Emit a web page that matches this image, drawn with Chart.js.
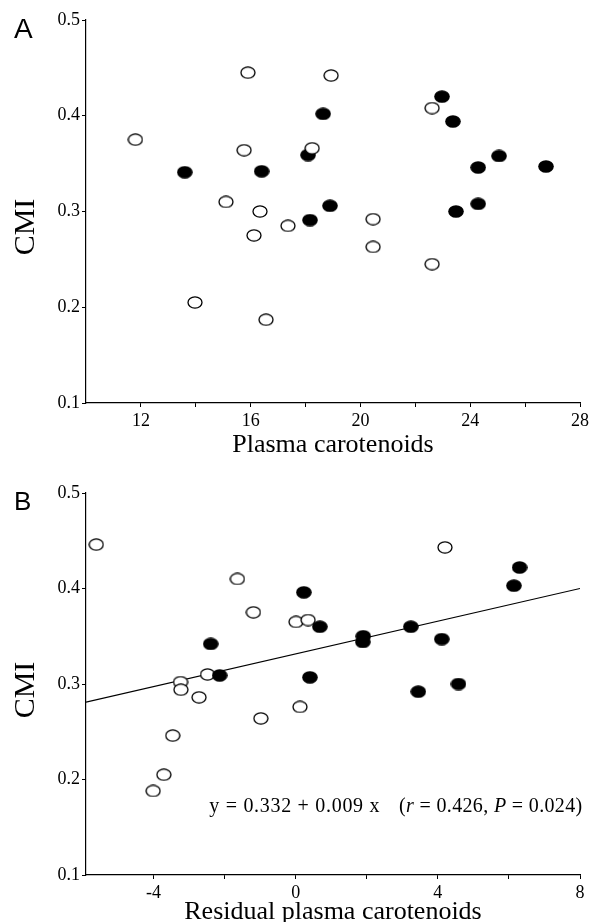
<!DOCTYPE html>
<html>
<head>
<meta charset="utf-8">
<title>CMI and plasma carotenoids</title>
<script src="https://cdn.jsdelivr.net/npm/chart.js@4.4.1/dist/chart.umd.min.js"></script>
<style>
  html, body { margin: 0; padding: 0; background: #fff; }
  #wrap { position: relative; width: 592px; height: 922px; overflow: hidden; }
  canvas { position: absolute; left: 0; }
  #chartA { top: 0; }
  #chartB { top: 461px; }
</style>
</head>
<body>
<div id="wrap">
  <canvas id="chartA" width="592" height="461"></canvas>
  <canvas id="chartB" width="592" height="461"></canvas>
</div>
<script>
// Panel A: CMI against plasma carotenoids
const carotA_filled = [13.6, 16.4, 22.97, 23.37, 18.64, 18.09, 24.29, 25.05, 26.76, 18.89, 18.16, 23.48, 24.29]
const cmiA_filled   = [0.341, 0.342, 0.420, 0.394, 0.402, 0.359, 0.346, 0.358, 0.347, 0.306, 0.291, 0.300, 0.308]
const carotA_open   = [11.8, 15.9, 18.93, 15.76, 18.24, 22.61, 15.1, 16.34, 16.12, 17.36, 20.46, 20.46, 22.61, 13.97, 16.56]
const cmiA_open     = [0.375, 0.445, 0.442, 0.364, 0.366, 0.408, 0.310, 0.300, 0.275, 0.285, 0.292, 0.263, 0.245, 0.205, 0.187]

// Panel B: CMI against residual plasma carotenoids
const residB_filled = [-2.39, -2.14, 0.23, 0.68, 1.90, 1.89, 3.24, 4.11, 6.14, 6.30, 0.40, 3.45, 4.58]
const cmiB_filled   = [0.342, 0.309, 0.396, 0.360, 0.350, 0.344, 0.360, 0.347, 0.403, 0.422, 0.307, 0.292, 0.300]
const residB_open   = [-5.61, -1.64, -1.19, 0.01, 0.35, 4.20, -3.24, -3.23, -2.48, -2.72, -3.46, -3.71, -4.01, -0.98, 0.12]
const cmiB_open     = [0.446, 0.410, 0.375, 0.365, 0.367, 0.443, 0.302, 0.294, 0.310, 0.286, 0.246, 0.205, 0.188, 0.264, 0.276]

// fitted line y = 0.332 + 0.009 x, ends
const fitX = [-5.9, 8]
const fitY = [0.281, 0.400]

// tick labels
const yTicks  = [0.1, 0.2, 0.3, 0.4, 0.5]
const xTicksA = [12, 14, 16, 18, 20, 22, 24, 26, 28]
const xTicksB = [-4, -2, 0, 2, 4, 6, 8]

const SERIF = "'Liberation Serif', 'Times New Roman', serif"
const SANS = "'Liberation Sans', Arial, sans-serif"

Chart.defaults.font.family = SERIF
Chart.defaults.color = "#000"

const zip = (xs, ys) => xs.map((x, i) => ({ x, y: ys[i] }))

// slightly flattened dots, like the printed figure
function makeDot(filled) {
  const c = document.createElement("canvas")
  c.width = 16
  c.height = 13
  const g = c.getContext("2d")
  g.beginPath()
  g.ellipse(8, 6.5, filled ? 7.8 : 7.0, filled ? 6.3 : 5.6, 0, 0, Math.PI * 2)
  if (filled) {
    g.fillStyle = "#000"
    g.fill()
  } else {
    g.fillStyle = "#fff"
    g.fill()
    g.lineWidth = 1.3
    g.strokeStyle = "#000"
    g.stroke()
  }
  return c
}
const DOT_FILLED = makeDot(true)
const DOT_OPEN = makeDot(false)

const panelText = {
  id: "panelText",
  afterDraw(chart, args, opts) {
    const ctx = chart.ctx
    ctx.save()
    ctx.fillStyle = "#000"
    ctx.font = opts.letterSize + "px " + SANS
    ctx.textBaseline = "alphabetic"
    ctx.textAlign = "left"
    ctx.fillText(opts.letter, 14, opts.letterBase)

    ctx.save()
    ctx.translate(26, opts.yTitleY)
    ctx.rotate(-Math.PI / 2)
    ctx.font = "30px " + SERIF
    ctx.textAlign = "center"
    ctx.textBaseline = "middle"
    ctx.fillText("CMI", 0, 0)
    ctx.restore()

    if (opts.equation) {
      const xs = chart.scales.x, ys = chart.scales.y
      const base = ys.getPixelForValue(0.166)
      let x = xs.getPixelForValue(-2.43)
      ctx.textBaseline = "alphabetic"
      const roman = "20px " + SERIF, italic = "italic 20px " + SERIF
      if ("letterSpacing" in ctx) ctx.letterSpacing = "0.7px"
      ctx.font = roman
      ctx.fillText("y = 0.332 + 0.009 x", x, base)
      if ("letterSpacing" in ctx) ctx.letterSpacing = "0.35px"
      x = 399
      const parts = [["(", roman], ["r", italic], [" = 0.426, ", roman], ["P", italic], [" = 0.024)", roman]]
      for (const [t, f] of parts) {
        ctx.font = f
        ctx.fillText(t, x, base)
        x += ctx.measureText(t).width
      }
    }
    ctx.restore()
  },
}

function axisX(min, max, ticks, title, titleLH, height) {
  return {
    type: "linear",
    min, max,
    afterFit: s => { s.height = height },
    afterBuildTicks: s => { s.ticks = ticks.map(v => ({ value: v })) },
    border: { display: true, color: "#000", width: 1.2 },
    grid: { display: true, drawOnChartArea: false, drawTicks: true, tickLength: 4, color: "#000", lineWidth: 1 },
    ticks: {
      padding: 3,
      font: { size: 18 },
      maxRotation: 0,
      autoSkip: false,
      callback: v => (v % 4 === 0 ? String(v) : ""),
    },
    title: { display: true, text: title, font: { size: 26, lineHeight: titleLH }, padding: 0 },
  }
}

function axisY() {
  return {
    type: "linear",
    min: 0.1, max: 0.5,
    afterFit: s => { s.width = 86 },
    afterBuildTicks: s => { s.ticks = yTicks.map(v => ({ value: v })) },
    border: { display: true, color: "#000", width: 1.2 },
    grid: { display: true, drawOnChartArea: false, drawTicks: true, tickLength: 4, color: "#000", lineWidth: 1 },
    ticks: { padding: 2, font: { size: 18 }, callback: v => v.toFixed(1) },
  }
}

function makePanel(canvasId, cfg) {
  return new Chart(document.getElementById(canvasId), {
    type: "scatter",
    data: { datasets: cfg.datasets },
    options: {
      responsive: false,
      animation: false,
      events: [],
      layout: { padding: { top: cfg.padTop, right: 12, bottom: 0, left: 0 } },
      plugins: {
        legend: { display: false },
        tooltip: { enabled: false },
        panelText: cfg.text,
      },
      scales: { x: cfg.x, y: axisY() },
    },
    plugins: [panelText],
  })
}

makePanel("chartA", {
  padTop: 20,
  datasets: [
    { label: "open", data: zip(carotA_open, cmiA_open), pointStyle: DOT_OPEN, order: 0 },
    { label: "filled", data: zip(carotA_filled, cmiA_filled), pointStyle: DOT_FILLED, order: 1 },
  ],
  x: axisX(10, 28, xTicksA, "Plasma carotenoids", 1.2, 58),
  text: { letter: "A", letterSize: 28, letterBase: 38, yTitleY: 227 },
})

makePanel("chartB", {
  padTop: 32,
  datasets: [
    { label: "filled", data: zip(residB_filled, cmiB_filled), pointStyle: DOT_FILLED, order: 0 },
    { label: "open", data: zip(residB_open, cmiB_open), pointStyle: DOT_OPEN, order: 1 },
    {
      type: "line", label: "fit", data: zip(fitX, fitY),
      borderColor: "#000", borderWidth: 1.2, pointRadius: 0, fill: false, order: 2,
    },
  ],
  x: axisX(-5.9, 8, xTicksB, "Residual plasma carotenoids", 0.73, 47),
  text: { letter: "B", letterSize: 26, letterBase: 49, yTitleY: 229, equation: true },
})
</script>
</body>
</html>
